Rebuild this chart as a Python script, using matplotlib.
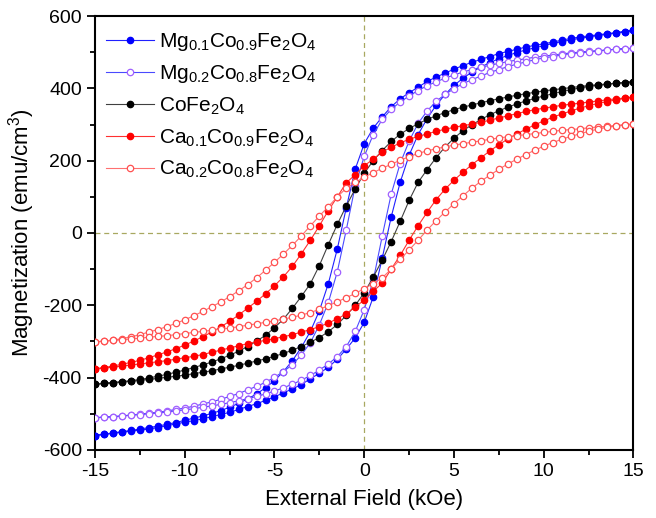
import matplotlib
matplotlib.use("Agg")
import matplotlib.pyplot as plt
from matplotlib.ticker import MultipleLocator

plt.rcParams['font.family'] = ['Liberation Sans', 'DejaVu Sans']
plt.rcParams['mathtext.default'] = 'regular'
plt.rcParams['axes.unicode_minus'] = False

# Applied field grid (kOe), ascending
field = [-15.0, -14.5, -14.0, -13.5, -13.0, -12.5, -12.0, -11.5, -11.0, -10.5,
         -10.0, -9.5, -9.0, -8.5, -8.0, -7.5, -7.0, -6.5, -6.0, -5.5,
         -5.0, -4.5, -4.0, -3.5, -3.0, -2.5, -2.0, -1.5, -1.0, -0.5,
         0.0, 0.5, 1.0, 1.5, 2.0, 2.5, 3.0, 3.5, 4.0, 4.5,
         5.0, 5.5, 6.0, 6.5, 7.0, 7.5, 8.0, 8.5, 9.0, 9.5,
         10.0, 10.5, 11.0, 11.5, 12.0, 12.5, 13.0, 13.5, 14.0, 14.5, 15.0]

# Descending (upper) and ascending (lower) branches, values at the field grid above
mg01_upper = [-560, -556, -553, -549, -546, -542, -538, -534, -529, -524,
              -518, -512, -506, -499, -491, -482, -471, -459, -445, -428,
              -408, -383, -353, -316, -272, -215, -140, -44, 70, 177,
              247, 290, 321, 349, 371, 388, 403, 419, 431, 442,
              453, 463, 472, 480, 488, 496, 502, 508, 514, 519,
              523, 528, 533, 538, 542, 545, 548, 551, 554, 557, 560]
mg01_lower = [-560, -557, -554, -551, -548, -545, -542, -538, -533, -528,
              -523, -519, -514, -508, -502, -496, -488, -480, -472, -463,
              -453, -442, -431, -419, -403, -388, -371, -349, -321, -290,
              -247, -177, -70, 44, 140, 215, 272, 316, 353, 383,
              408, 428, 445, 459, 471, 482, 491, 499, 506, 512,
              518, 524, 529, 534, 538, 542, 546, 549, 553, 556, 560]

mg02_upper = [-511, -509, -508, -506, -503, -501, -498, -496, -492, -488,
              -484, -479, -473, -467, -460, -452, -444, -434, -424, -413,
              -399, -383, -364, -337, -303, -254, -192, -107, 9, 131,
              212, 272, 314, 342, 362, 379, 394, 407, 418, 428,
              437, 445, 452, 458, 464, 469, 474, 478, 482, 486,
              489, 492, 495, 498, 500, 502, 504, 506, 508, 509, 511]
mg02_lower = [-511, -509, -508, -506, -504, -502, -500, -498, -495, -492,
              -489, -486, -482, -478, -474, -469, -464, -458, -452, -445,
              -437, -428, -418, -407, -394, -379, -362, -342, -314, -272,
              -212, -131, -9, 107, 192, 254, 303, 337, 364, 383,
              399, 413, 424, 434, 444, 452, 460, 467, 473, 479,
              484, 488, 492, 496, 498, 501, 503, 506, 508, 509, 511]

cofe_upper = [-418, -416, -414, -411, -408, -405, -401, -396, -391, -385,
              -379, -372, -365, -357, -348, -338, -327, -314, -299, -283,
              -262, -238, -208, -175, -140, -90, -32, 24, 75, 122,
              165, 200, 228, 253, 273, 289, 302, 314, 324, 333,
              341, 348, 354, 360, 366, 371, 376, 381, 385, 389,
              393, 396, 399, 402, 405, 408, 410, 412, 414, 416, 418]
cofe_lower = [-418, -416, -414, -412, -410, -408, -405, -402, -399, -396,
              -393, -389, -385, -381, -376, -371, -366, -360, -354, -348,
              -341, -333, -324, -314, -302, -289, -273, -253, -228, -200,
              -165, -122, -75, -24, 32, 90, 140, 175, 208, 238,
              262, 283, 299, 314, 327, 338, 348, 357, 365, 372,
              379, 385, 391, 396, 401, 405, 408, 411, 414, 416, 418]

ca01_upper = [-376, -372, -368, -363, -358, -352, -345, -337, -329, -320,
              -310, -299, -287, -274, -260, -244, -227, -208, -189, -168,
              -146, -121, -92, -57, -20, 20, 62, 100, 139, 161,
              186, 204, 224, 237, 249, 259, 267, 274, 281, 287,
              292, 297, 301, 306, 312, 318, 324, 330, 336, 341,
              345, 349, 353, 356, 359, 362, 365, 368, 371, 373, 376]
ca01_lower = [-376, -373, -371, -368, -365, -362, -359, -356, -353, -349,
              -345, -341, -336, -330, -324, -318, -312, -306, -301, -297,
              -292, -287, -281, -274, -267, -259, -249, -237, -224, -204,
              -186, -161, -139, -100, -62, -20, 20, 57, 92, 121,
              146, 168, 189, 208, 227, 244, 260, 274, 287, 299,
              310, 320, 329, 337, 345, 352, 358, 363, 368, 372, 376]

ca02_upper = [-301, -299, -296, -292, -287, -281, -274, -267, -259, -250,
              -240, -229, -217, -204, -191, -176, -160, -143, -124, -103,
              -81, -58, -34, -8, 20, 47, 73, 100, 124, 140,
              154, 167, 179, 190, 201, 211, 220, 227, 233, 238,
              243, 247, 251, 255, 259, 263, 266, 269, 272, 275,
              278, 281, 284, 286, 288, 291, 293, 295, 297, 299, 301]
ca02_lower = [-301, -299, -297, -295, -293, -291, -288, -286, -284, -281,
              -278, -275, -272, -269, -266, -263, -259, -255, -251, -247,
              -243, -238, -233, -227, -220, -211, -201, -190, -179, -167,
              -154, -140, -124, -100, -73, -47, -20, 8, 34, 58,
              81, 103, 124, 143, 160, 176, 191, 204, 217, 229,
              240, 250, 259, 267, 274, 281, 287, 292, 296, 299, 301]

labels = [r'Mg$_{0.1}$Co$_{0.9}$Fe$_2$O$_4$',
          r'Mg$_{0.2}$Co$_{0.8}$Fe$_2$O$_4$',
          r'CoFe$_2$O$_4$',
          r'Ca$_{0.1}$Co$_{0.9}$Fe$_2$O$_4$',
          r'Ca$_{0.2}$Co$_{0.8}$Fe$_2$O$_4$']
uppers = [mg01_upper, mg02_upper, cofe_upper, ca01_upper, ca02_upper]
lowers = [mg01_lower, mg02_lower, cofe_lower, ca01_lower, ca02_lower]

styles = [
    dict(color='#2020ff', marker='o', mfc='#0000ff', mec='#0000ff'),
    dict(color='#4a4aff', marker='o', mfc='white', mec='#a060ff'),
    dict(color='#404040', marker='o', mfc='black', mec='black'),
    dict(color='#ff3030', marker='o', mfc='#ff0000', mec='#ff0000'),
    dict(color='#ff7070', marker='o', mfc='white', mec='#ff5050'),
]

fig = plt.figure(figsize=(6.56, 5.18), dpi=100)
ax = fig.add_axes([0.1448, 0.1313, 0.8209, 0.8378])

ax.axhline(0, color='#a8a860', lw=0.9, ls=(0, (4, 3)), zorder=1)
ax.axvline(0, color='#a8a860', lw=0.9, ls=(0, (4, 3)), zorder=1)

for lab, up, lo, st in zip(labels, uppers, lowers, styles):
    h_loop = field[::-1] + field
    m_loop = up[::-1] + lo
    ax.plot(h_loop, m_loop, lw=0.8, ms=4.6, mew=0.9, label=lab, zorder=3, **st)

ax.set_xlim(-15, 15)
ax.set_ylim(-600, 600)
ax.xaxis.set_major_locator(MultipleLocator(5))
ax.xaxis.set_minor_locator(MultipleLocator(2.5))
ax.yaxis.set_major_locator(MultipleLocator(200))
ax.yaxis.set_minor_locator(MultipleLocator(100))
ax.tick_params(which='both', direction='out', top=False, right=False,
               labelsize=14, width=1.3)
ax.tick_params(which='major', length=6)
ax.tick_params(which='minor', length=3.5)
for sp in ax.spines.values():
    sp.set_linewidth(1.5)

ax.set_xlabel('External Field (kOe)', fontsize=16, labelpad=6)
ax.set_ylabel('Magnetization (emu/cm$^3$)', fontsize=16, labelpad=4)

ax.legend(loc='upper left', frameon=False, fontsize=15, handlelength=2.3,
          handletextpad=0.25, labelspacing=0.5, borderaxespad=0.0,
          bbox_to_anchor=(0.005, 0.985))

fig.savefig('out.png', dpi=100)
